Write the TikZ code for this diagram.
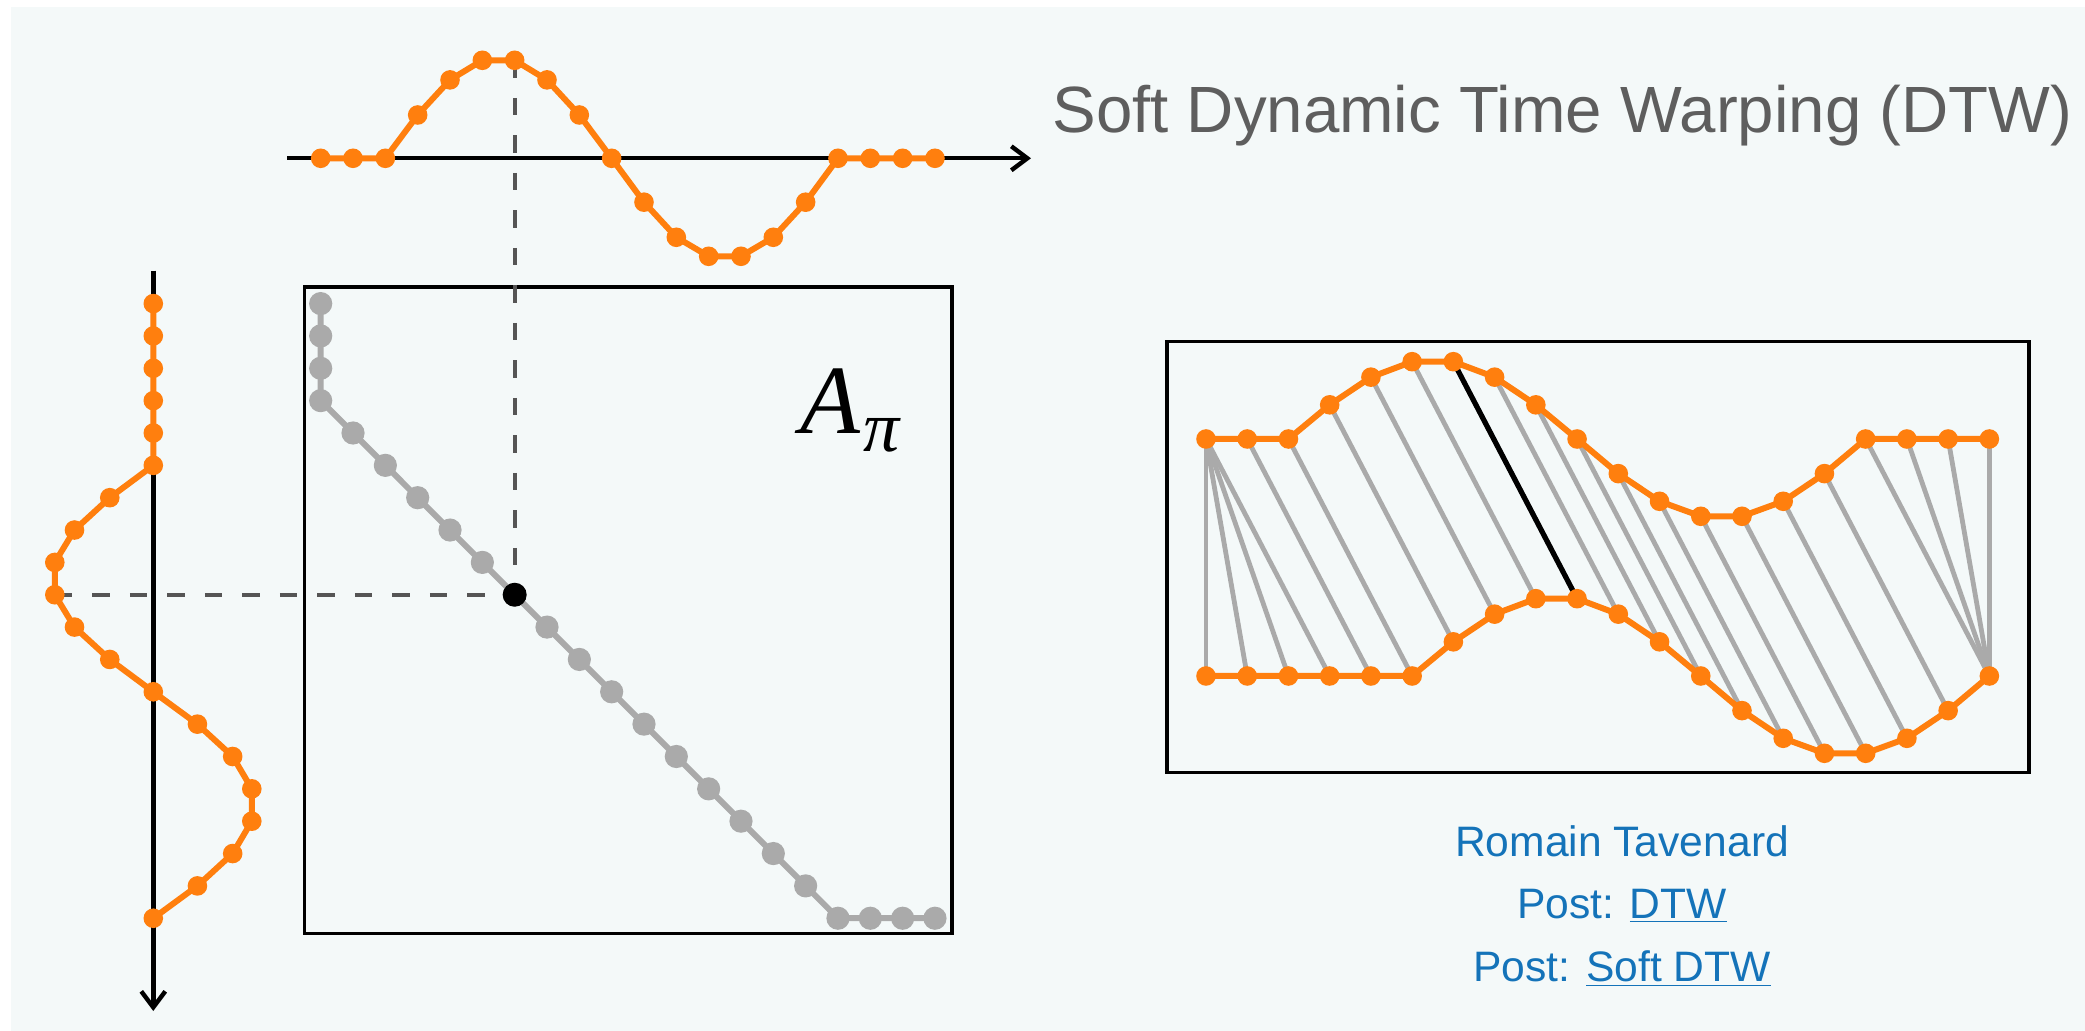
\documentclass[tikz,border=0pt]{standalone}
\usepackage{fontspec}
\setmainfont{Liberation Sans}
\newfontfamily\timesfont{Liberation Serif}
\usetikzlibrary{arrows.meta}
\definecolor{bgc}{HTML}{F4F9F9}
\definecolor{dtworange}{HTML}{FF7F0E}
\definecolor{pathgray}{HTML}{AAAAAA}
\definecolor{dashgray}{HTML}{555555}
\definecolor{titlegray}{HTML}{5E5E5E}
\definecolor{linkblue}{HTML}{1473B9}
\def\tvals{0,0,0,-0.442,-0.8,-1,-1,-0.8,-0.442,0,0.448,0.806,1,1,0.806,0.448,0,0,0,0}
\def\vvals{0,0,0,0,0,0,-0.442,-0.8,-1,-1,-0.8,-0.442,0,0.448,0.806,1,1,0.806,0.448,0}
\def\pathpairs{0/0,0/1,0/2,0/3,1/4,2/5,3/6,4/7,5/8,6/9,7/10,8/11,9/12,10/13,11/14,12/15,13/16,14/17,15/18,16/19,17/19,18/19,19/19}
\begin{document}
\begin{tikzpicture}[x=0.5pt,y=-0.5pt,
  orangeline/.style={draw=dtworange, line width=3pt, line join=round},
  orangedot/.style={fill=dtworange},
  graypathline/.style={draw=pathgray, line width=3pt, line join=round},
  alignline/.style={draw=pathgray, line width=2.4pt},
  frameline/.style={draw=black, line width=1.8pt},
  axisline/.style={draw=black, line width=2.2pt, -{Straight Barb[length=8pt,width=12pt,line width=2.2pt]}},
  dashline/.style={draw=dashgray, line width=2pt, dash pattern=on 8.75pt off 10pt}]
\useasboundingbox (0,0) rectangle (2085,1031);
\fill[white] (0,0) rectangle (2085,1031);
\fill[bgc] (11,7) rectangle (2085,1031);

% coordinates of the series
\foreach \v [count=\i from 0] in \tvals {
  \coordinate (T\i) at ({320.7+\i*32.33},{158.3+\v*98});
  \coordinate (R\i) at ({1206+\i*41.23},{439+\v*77.3});
}
\foreach \v [count=\j from 0] in \vvals {
  \coordinate (V\j) at ({153.3+\v*98.5},{303.6+\j*32.35});
  \coordinate (S\j) at ({1206+\j*41.23},{676+\v*77.3});
}
\coordinate (blk) at ({320.7+6*32.33},{303.6+9*32.35});

% matrix frame
\draw[frameline] (304.3,287.3) rectangle (952.2,933.5);
% axes
\coordinate (hxs) at (287.4,158.3);
\coordinate (hxe) at (1031,158.3);
\coordinate (vxs) at (153.3,270.7);
\coordinate (vxe) at (153.3,1011);
\draw[axisline] (hxs) -- (hxe);
\draw[axisline] (vxs) -- (vxe);
% dashed guides
\draw[dashline] (T6) -- (blk);
\draw[dashline] (V9) -- (blk);
% warping path
\foreach \a/\b [count=\k from 0] in \pathpairs {
  \coordinate (M\k) at ({320.7+\a*32.33},{303.6+\b*32.35});
}
\draw[graypathline] (M0) \foreach \k in {1,...,22} { -- (M\k) };
\foreach \k in {0,...,22} { \fill[pathgray] (M\k) circle[radius=5.8pt]; }
\fill[black] (blk) circle[radius=6pt];
\node[anchor=base west, inner sep=0pt] (api) at (800,434)
  {\timesfont\itshape\fontsize{49}{49}\selectfont A\kern1.5pt\raisebox{-9pt}{\fontsize{36}{36}\selectfont π}};

% top series
\draw[orangeline] (T0) \foreach \i in {1,...,19} { -- (T\i) };
\foreach \i in {0,...,19} { \fill[orangedot] (T\i) circle[radius=4.9pt]; }
% vertical series
\draw[orangeline] (V0) \foreach \j in {1,...,19} { -- (V\j) };
\foreach \j in {0,...,19} { \fill[orangedot] (V\j) circle[radius=4.9pt]; }

% right panel
\draw[frameline] (1167,341.7) rectangle (2029,772.5);
\foreach \a/\b in \pathpairs { \draw[alignline] (R\a) -- (S\b); }
\draw[draw=black, line width=2.6pt] (R6) -- (S9);
\draw[orangeline] (R0) \foreach \i in {1,...,19} { -- (R\i) };
\draw[orangeline] (S0) \foreach \i in {1,...,19} { -- (S\i) };
\foreach \i in {0,...,19} {
  \fill[orangedot] (R\i) circle[radius=4.9pt];
  \fill[orangedot] (S\i) circle[radius=4.9pt];
}

% texts
\node[anchor=base west, inner sep=0pt, text=titlegray, font=\fontsize{32.7}{32.7}\selectfont] (title) at (1052,133) {Soft Dynamic Time Warping (DTW)};
\node[anchor=base, inner sep=0pt, text=linkblue, font=\fontsize{21.3}{25}\selectfont] (author) at (1622,856.7) {Romain Tavenard};
\node[anchor=base, inner sep=0pt, text=linkblue, font=\fontsize{21.3}{25}\selectfont] (post1) at (1622,919) {Post: \underline{DTW}};
\node[anchor=base, inner sep=0pt, text=linkblue, font=\fontsize{21.3}{25}\selectfont] (post2) at (1622,981.7) {Post: \underline{Soft DTW}};
\end{tikzpicture}
\end{document}
